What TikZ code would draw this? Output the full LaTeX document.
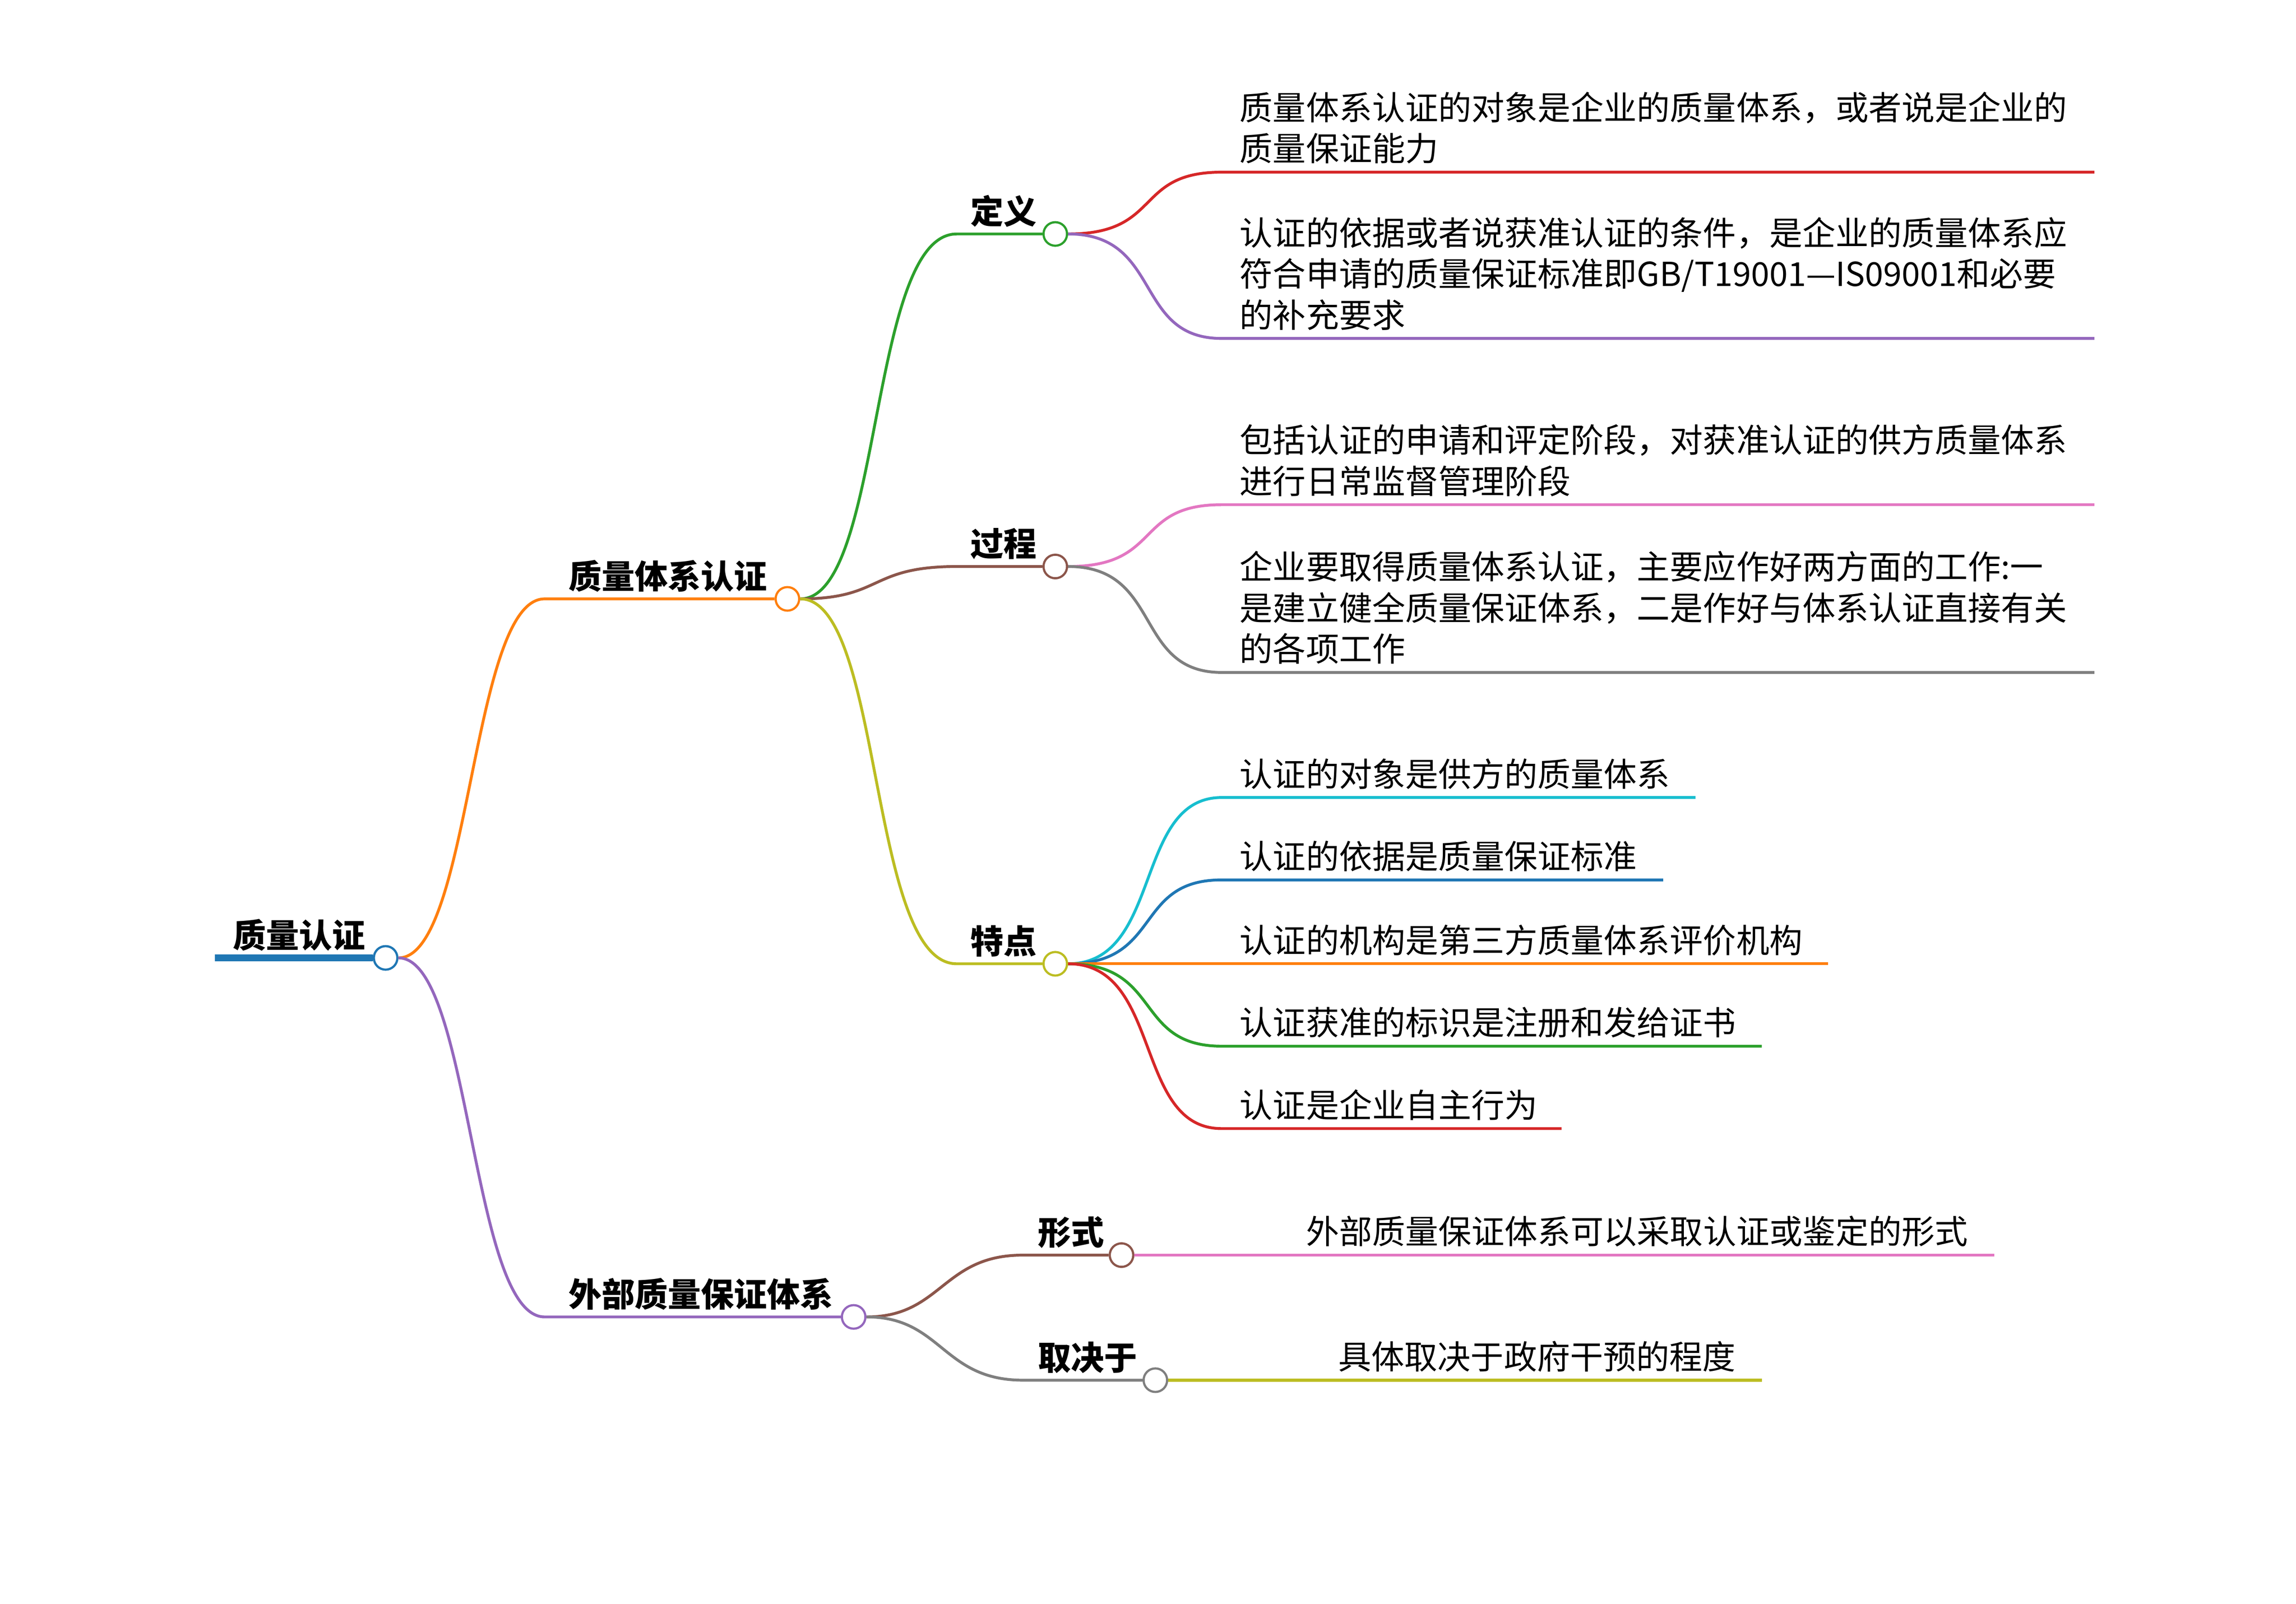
\documentclass[tikz,border=0pt]{standalone}
\usepackage{fontspec}
\setmainfont{Noto Sans CJK SC}
\definecolor{cred}{HTML}{D62728}
\definecolor{cpur}{HTML}{9467BD}
\definecolor{cpink}{HTML}{E377C2}
\definecolor{cgray}{HTML}{7F7F7F}
\definecolor{ccyan}{HTML}{17BECF}
\definecolor{cblue}{HTML}{1F77B4}
\definecolor{corange}{HTML}{FF7F0E}
\definecolor{cgreen}{HTML}{2CA02C}
\definecolor{cbrown}{HTML}{8C564B}
\definecolor{colive}{HTML}{BCBD22}
\begin{document}
\begin{tikzpicture}[x=0.02cm,y=-0.02cm,
  dot/.style={circle,draw=#1,fill=white,line width=0.85pt,minimum size=0.32cm,inner sep=0},
  br/.style={line width=1.1pt,draw=#1},
  lbl/.style={anchor=south west,inner sep=0,font=\fontsize{12.8}{15.9}\selectfont\bfseries,yshift=2.5pt},
  leaf/.style={anchor=south west,inner sep=0,align=left,font=\fontsize{12.8}{15.9}\selectfont,yshift=3pt}]
\useasboundingbox (0,0) rectangle (1560,1090);
% root
\coordinate (r0) at (146,651);
\node[dot=cblue] (r) at (262,651) {};
\draw[line width=2.6pt,draw=cblue] (r0) -- (r.west);
\node[lbl] at (158,651) {质量认证};
% level 1
\coordinate (a0) at (370,407); \node[dot=corange] (a) at (535,407) {};
\draw[br=corange] (r.east) .. controls (320,651) and (320,407) .. (a0) -- (a.west);
\node[lbl] at (386,407) {质量体系认证};
\coordinate (b0) at (370,895); \node[dot=cpur] (b) at (580,895) {};
\draw[br=cpur] (r.east) .. controls (320,651) and (320,895) .. (b0) -- (b.west);
\node[lbl] at (386,895) {外部质量保证体系};
% level 2
\coordinate (d0) at (650,159); \node[dot=cgreen] (d) at (717,159) {};
\draw[br=cgreen] (a.east) .. controls (600,407) and (590,159) .. (d0) -- (d.west);
\node[lbl] at (659,159) {定义};
\coordinate (p0) at (650,385); \node[dot=cbrown] (p) at (717,385) {};
\draw[br=cbrown] (a.east) .. controls (600,407) and (590,385) .. (p0) -- (p.west);
\node[lbl] at (659,385) {过程};
\coordinate (t0) at (650,655); \node[dot=colive] (t) at (717,655) {};
\draw[br=colive] (a.east) .. controls (600,407) and (590,655) .. (t0) -- (t.west);
\node[lbl] at (659,655) {特点};
\coordinate (f0) at (695,853); \node[dot=cbrown] (f) at (762,853) {};
\draw[br=cbrown] (b.east) .. controls (640,895) and (640,853) .. (f0) -- (f.west);
\node[lbl] at (705,853) {形式};
\coordinate (q0) at (695,938); \node[dot=cgray] (q) at (785,938) {};
\draw[br=cgray] (b.east) .. controls (640,895) and (640,938) .. (q0) -- (q.west);
\node[lbl] at (705,938) {取决于};
% leaves of 定义
\coordinate (l1) at (830,117); \coordinate (l1e) at (1423,117);
\draw[br=cred] (d.east) .. controls (790,159) and (770,117) .. (l1) -- (l1e);
\node[leaf] at (842,117) {质量体系认证的对象是企业的质量体系，或者说是企业的\\质量保证能力};
\coordinate (l2) at (830,230); \coordinate (l2e) at (1423,230);
\draw[br=cpur] (d.east) .. controls (790,159) and (770,230) .. (l2) -- (l2e);
\node[leaf] at (842,230) {认证的依据或者说获准认证的条件，是企业的质量体系应\\符合申请的质量保证标准即GB/T19001—IS09001和必要\\的补充要求};
% 过程
\coordinate (l3) at (830,343); \coordinate (l3e) at (1423,343);
\draw[br=cpink] (p.east) .. controls (790,385) and (770,343) .. (l3) -- (l3e);
\node[leaf] at (842,343) {包括认证的申请和评定阶段，对获准认证的供方质量体系\\进行日常监督管理阶段};
\coordinate (l4) at (830,457); \coordinate (l4e) at (1423,457);
\draw[br=cgray] (p.east) .. controls (790,385) and (770,457) .. (l4) -- (l4e);
\node[leaf] at (842,457) {企业要取得质量体系认证，主要应作好两方面的工作:一\\是建立健全质量保证体系，二是作好与体系认证直接有关\\的各项工作};
% 特点
\coordinate (l5) at (830,542); \coordinate (l5e) at (1152,542);
\draw[br=ccyan] (t.east) .. controls (790,655) and (770,542) .. (l5) -- (l5e);
\node[leaf] at (842,542) {认证的对象是供方的质量体系};
\coordinate (l6) at (830,598); \coordinate (l6e) at (1130,598);
\draw[br=cblue] (t.east) .. controls (790,655) and (770,598) .. (l6) -- (l6e);
\node[leaf] at (842,598) {认证的依据是质量保证标准};
\coordinate (l7) at (830,655); \coordinate (l7e) at (1242,655);
\draw[br=corange] (t.east) -- (l7) -- (l7e);
\node[leaf] at (842,655) {认证的机构是第三方质量体系评价机构};
\coordinate (l8) at (830,711); \coordinate (l8e) at (1197,711);
\draw[br=cgreen] (t.east) .. controls (790,655) and (770,711) .. (l8) -- (l8e);
\node[leaf] at (842,711) {认证获准的标识是注册和发给证书};
\coordinate (l9) at (830,767); \coordinate (l9e) at (1061,767);
\draw[br=cred] (t.east) .. controls (790,655) and (770,767) .. (l9) -- (l9e);
\node[leaf] at (842,767) {认证是企业自主行为};
% 形式 / 取决于
\coordinate (l10e) at (1355,853);
\draw[br=cpink] (f.east) -- (l10e);
\node[leaf] at (887,853) {外部质量保证体系可以采取认证或鉴定的形式};
\coordinate (l11e) at (1197,938);
\draw[br=colive] (q.east) -- (l11e);
\node[leaf] at (909,938) {具体取决于政府干预的程度};
\end{tikzpicture}
\end{document}
